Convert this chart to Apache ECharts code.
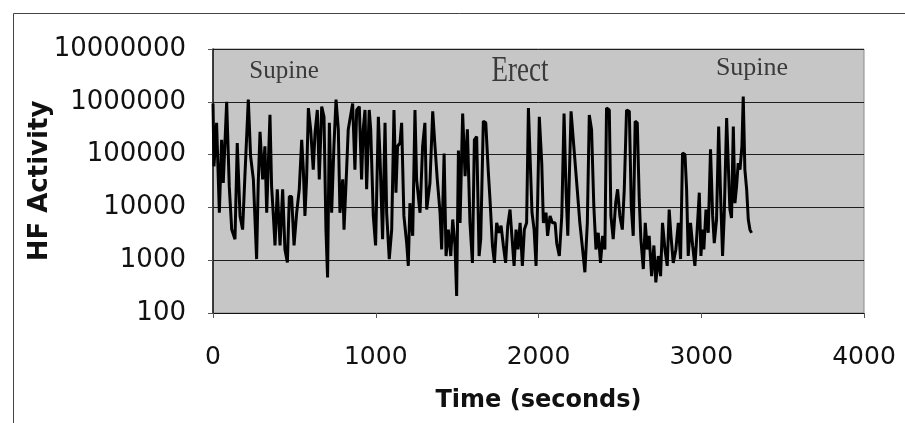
<!DOCTYPE html>
<html><head><meta charset="utf-8">
<script src="https://cdn.jsdelivr.net/npm/echarts@6/dist/echarts.min.js"></script>
<style>html,body{margin:0;padding:0;background:#fff}#c{width:905px;height:423px}</style>
</head><body><div id="c"></div>
<script>
// Time (seconds)
const timeSeconds = [
0,6,22,39,53,63,84,100,115,135,149,166,182,196,217,231,248,268,278,289,
305,319,330,350,360,371,381,395,412,428,442,457,469,483,498,514,530,545,555,565,
575,586,600,616,627,641,653,668,682,694,704,715,729,743,756,770,780,797,805,821,
831,858,872,883,899,913,923,934,944,960,969,985,999,1016,1026,1042,1057,1067,1083,1098,
1112,1124,1134,1149,1159,1173,1190,1200,1210,1227,1241,1251,1272,1288,1302,1313,1333,1350,1364,1378,
1395,1405,1420,1432,1446,1461,1473,1487,1497,1508,1518,1534,1549,1563,1579,1594,1606,1620,1635,1645,
1661,1676,1692,1702,1717,1729,1743,1758,1770,1784,1798,1811,1825,1835,1850,1862,1874,1887,1901,1913,
1927,1938,1948,1960,1973,1985,1995,2005,2020,2030,2046,2056,2071,2085,2102,2112,2128,2143,2157,2169,
2180,2200,2238,2254,2271,2285,2300,2312,2326,2340,2353,2367,2381,2394,2408,2418,2435,2445,2459,2474,
2486,2500,2515,2527,2541,2558,2570,2582,2594,2607,2619,2629,2644,2656,2668,2680,2695,2709,2721,2736,
2750,2762,2777,2791,2803,2814,2828,2844,2859,2873,2885,2900,2910,2920,2934,2947,2961,2975,2988,2998,
3008,3016,3029,3043,3057,3070,3080,3094,3107,3119,3131,3141,3156,3166,3176,3186,3197,3207,3217,3227,
3238,3250,3258,3268,3279,3289,3299,3309
];
// HF Activity
const hfActivity = [
930000,60000,400000,7900,190000,29000,1000000,25000,3800,2500,166000,6900,3800,39000,1100000,93000,34000,1050,29000,270000,
34000,144000,7900,570000,25000,6900,1900,22000,1900,22000,1600,910,16000,16000,1900,7900,22000,190000,52000,6900,
34000,760000,300000,52000,260000,700000,34000,810000,520000,3800,470,400000,7900,144000,1100000,300000,7900,34000,3800,52000,
300000,930000,52000,700000,810000,34000,300000,700000,22000,700000,300000,6900,1900,520000,93000,2500,400000,7900,1050,3800,
700000,19000,144000,166000,400000,6900,2100,780,12000,2900,700000,34000,7900,144000,400000,9100,29000,660000,144000,34000,
8000,1600,105000,1200,3800,1200,5900,1900,210,120000,5100,600000,39000,300000,5100,890,190000,220000,1200,2500,
430000,400000,45000,14000,1900,890,5100,3300,4500,1900,890,4500,9100,3300,780,3800,1600,5100,780,3800,
5100,760000,700000,8000,3800,780,14000,520000,69000,5100,8000,2900,6900,5100,5100,2100,1200,6900,600000,22000,
2900,660000,22000,5100,1600,590,5100,560000,300000,10500,1600,3300,890,2900,1600,760000,700000,6900,2500,12000,
22000,6900,3800,22000,700000,660000,10500,2900,430000,400000,14000,2500,680,5100,1600,2900,500,1900,380,1200,
500,5100,1600,780,9100,2900,890,1600,5100,1050,107000,100000,22000,1200,5100,1900,780,3800,19000,1200,
3800,1600,9100,3300,126000,6900,2100,5900,340000,16000,1200,6900,490000,520000,9100,6300,340000,12000,25000,69000,
52000,144000,1260000,52000,22000,5900,3800,3300
];
const xTicks = [0, 1000, 2000, 3000, 4000];
const yTickLabels = ['100', '1000', '10000', '100000', '1000000', '10000000'];
const phaseLabels = ['Supine', 'Erect', 'Supine'];

const seriesData = timeSeconds.map((t, i) => [t, hfActivity[i]]);

const chart = echarts.init(document.getElementById('c'), null, {renderer: 'canvas'});
chart.setOption({
  animation: false,
  backgroundColor: '#ffffff',
  grid: {left: 213, right: 41, top: 49, bottom: 110, show: true,
         backgroundColor: '#c6c6c6', borderColor: '#8a8a8a', borderWidth: 1},
  xAxis: {
    type: 'value', min: xTicks[0], max: xTicks[xTicks.length - 1], interval: 1000,
    name: 'Time (seconds)', nameLocation: 'middle', nameGap: 76, nameMoveOverlap: false,
    nameTextStyle: {fontFamily: 'DejaVu Sans', fontWeight: 'bold', fontSize: 24, color: '#111'},
    axisLine: {show: true, lineStyle: {color: '#111', width: 1}},
    axisTick: {show: true, length: 5, lineStyle: {color: '#555'}},
    axisLabel: {fontFamily: 'DejaVu Sans', fontSize: 25, color: '#111', margin: 32,
      formatter: v => { const s = String(Math.round(v)); return xTicks.indexOf(Math.round(v)) >= 0 ? s : ''; }},
    splitLine: {show: false}
  },
  yAxis: {
    type: 'log', logBase: 10, min: 100, max: 10000000, splitNumber: 5,
    name: 'HF Activity', nameLocation: 'middle', nameGap: 160, nameRotate: 90, nameMoveOverlap: false,
    nameTextStyle: {fontFamily: 'DejaVu Sans', fontWeight: 'bold', fontSize: 26, color: '#111'},
    axisLine: {show: true, lineStyle: {color: '#111', width: 1.5}},
    axisTick: {show: true, length: 5, lineStyle: {color: '#555'}},
    axisLabel: {fontFamily: 'DejaVu Sans', fontSize: 26, color: '#111', margin: 27,
      formatter: v => { const s = String(Math.round(v)); return yTickLabels.indexOf(s) >= 0 ? s : ''; }},
    splitLine: {show: true, lineStyle: {color: '#1e1e1e', width: 1}}
  },
  series: [{
    type: 'line', data: seriesData, showSymbol: false, symbol: 'none',
    lineStyle: {color: '#000', width: 3}, z: 3
  }],
  graphic: [
    {type: 'rect', left: 11, top: 11, shape: {x: 0, y: 0, width: 1000, height: 1000},
     style: {fill: 'none', stroke: '#444', lineWidth: 1}, silent: true},
    {type: 'text', x: 284, y: 71, z: 10,
     style: {text: phaseLabels[0], font: '25px "Liberation Serif"', fill: '#3a3a3a', align: 'center', verticalAlign: 'middle'}},
    {type: 'text', x: 520, y: 72, z: 10, scaleX: 0.75,
     style: {text: phaseLabels[1], font: '36px "Liberation Serif"', fill: '#3a3a3a', align: 'center', verticalAlign: 'middle'}},
    {type: 'text', x: 752, y: 68, z: 10,
     style: {text: phaseLabels[2], font: '26px "Liberation Serif"', fill: '#3a3a3a', align: 'center', verticalAlign: 'middle'}}
  ]
});
</script>
</body></html>
